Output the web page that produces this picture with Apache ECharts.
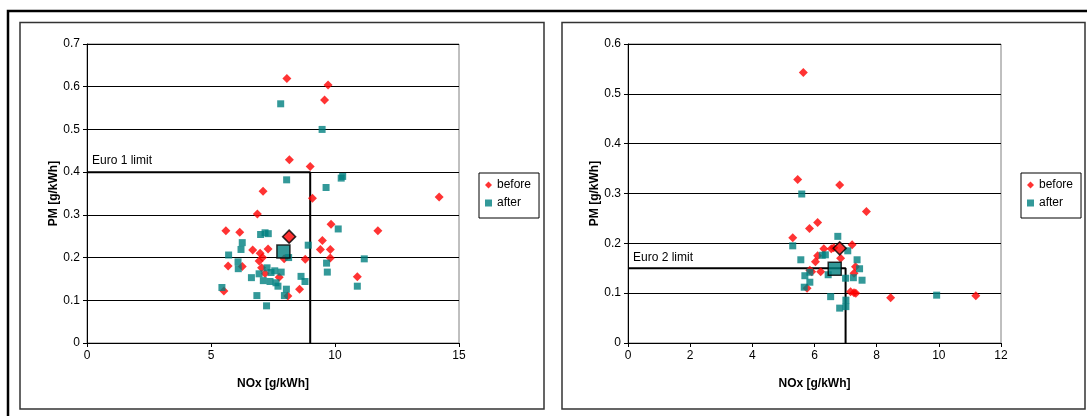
<!DOCTYPE html>
<html>
<head>
<meta charset="utf-8">
<script src="https://cdn.jsdelivr.net/npm/echarts@6/dist/echarts.min.js"></script>
<style>
  html, body { margin: 0; padding: 0; background: #fff; }
  #chart { width: 1087px; height: 416px; }
</style>
</head>
<body>
<div id="chart"></div>
<script>
// ---- Engine 1 (Euro 1 limit): NOx [g/kWh], PM [g/kWh] ----
const leftBefore = [
  [5.52,0.122],[5.60,0.263],[5.69,0.180],[6.16,0.259],[6.26,0.179],[6.68,0.218],
  [6.87,0.302],[6.94,0.192],[6.98,0.210],[7.08,0.200],[7.04,0.176],[7.10,0.355],
  [7.18,0.163],[7.30,0.220],[7.75,0.154],[7.95,0.197],[8.06,0.619],[8.10,0.110],
  [8.16,0.429],[8.57,0.126],[8.80,0.196],[9.00,0.413],[9.09,0.339],[9.41,0.219],
  [9.49,0.240],[9.58,0.569],[9.72,0.604],[9.81,0.219],[9.81,0.199],[9.84,0.278],
  [10.90,0.155],[11.73,0.263],[14.20,0.342]
];
const leftAfter = [
  [5.44,0.130],[5.71,0.206],[6.09,0.190],[6.10,0.174],[6.21,0.219],[6.26,0.235],
  [6.63,0.153],[6.85,0.111],[6.94,0.162],[7.00,0.254],[7.18,0.258],[7.31,0.256],
  [7.11,0.146],[7.24,0.087],[7.26,0.176],[7.38,0.144],[7.42,0.165],[7.57,0.169],
  [7.62,0.141],[7.70,0.133],[7.83,0.166],[7.81,0.560],[7.96,0.111],[8.04,0.126],
  [8.05,0.382],[8.13,0.200],[8.63,0.156],[8.79,0.144],[8.92,0.229],[9.48,0.500],
  [9.64,0.364],[9.66,0.187],[9.69,0.166],[10.13,0.267],[10.25,0.386],[10.31,0.390],
  [10.90,0.133],[11.18,0.197]
];
const leftBeforeMean = [[8.15,0.249]];
const leftAfterMean = [[7.92,0.214]];
const euro1Limit = [[0,0.4],[9,0.4],[9,0]];
const euro1Text = 'Euro 1 limit';

// ---- Engine 2 (Euro 2 limit) ----
const rightBefore = [
  [5.64,0.543],[5.46,0.328],[6.81,0.317],[7.67,0.264],[6.10,0.242],[5.84,0.230],
  [5.30,0.211],[7.21,0.197],[6.30,0.189],[6.54,0.189],[6.62,0.191],[6.10,0.175],
  [6.03,0.163],[6.84,0.170],[7.32,0.153],[5.85,0.146],[5.91,0.143],[6.20,0.143],
  [7.27,0.140],[5.76,0.110],[7.16,0.103],[7.27,0.101],[7.33,0.100],[8.45,0.091],
  [11.19,0.095]
];
const rightAfter = [
  [5.59,0.299],[6.75,0.214],[5.30,0.195],[7.07,0.185],[6.35,0.177],[6.25,0.176],
  [5.56,0.167],[7.37,0.167],[7.45,0.149],[5.85,0.142],[5.69,0.135],[6.44,0.137],
  [7.25,0.131],[7.00,0.130],[7.53,0.126],[5.85,0.122],[5.67,0.112],[6.52,0.093],
  [7.01,0.086],[7.01,0.073],[6.81,0.070],[9.93,0.096]
];
const rightBeforeMean = [[6.81,0.190]];
const rightAfterMean = [[6.65,0.149]];
const euro2Limit = [[0,0.15],[7,0.15],[7,0]];
const euro2Text = 'Euro 2 limit';

// axis ranges and tick steps
const leftX = { min: 0, max: 15, step: 5 };
const leftY = { min: 0, max: 0.7, step: 0.1 };
const rightX = { min: 0, max: 12, step: 2 };
const rightY = { min: 0, max: 0.6, step: 0.1 };
const seriesNames = ['before', 'after'];
const xTitle = 'NOx [g/kWh]';
const yTitle = 'PM [g/kWh]';

const FONT = '"Liberation Sans", Arial, sans-serif';
const RED = '#ff0000';
const TEAL = '#008080';

function xAxisOf(range, gridIndex) {
  return {
    type: 'value', gridIndex, min: range.min, max: range.max, interval: range.step,
    name: xTitle, nameLocation: 'middle', nameGap: 35,
    nameTextStyle: { fontFamily: FONT, fontSize: 12, fontWeight: 'bold', color: '#000' },
    axisLine: { show: true, onZero: false, lineStyle: { color: '#000', width: 1 } },
    axisTick: { show: true, inside: false, length: 4, lineStyle: { color: '#000' } },
    axisLabel: { margin: 7, fontFamily: FONT, fontSize: 12, color: '#000' },
    splitLine: { show: false }
  };
}
function yAxisOf(range, gridIndex) {
  return {
    type: 'value', gridIndex, min: range.min, max: range.max, interval: range.step,
    name: yTitle, nameLocation: 'middle', nameGap: 20,
    nameTextStyle: { fontFamily: FONT, fontSize: 12, fontWeight: 'bold', color: '#000' },
    axisLine: { show: true, onZero: false, lineStyle: { color: '#000', width: 1 } },
    axisTick: { show: true, inside: false, length: 4, lineStyle: { color: '#000' } },
    axisLabel: { margin: 7, fontFamily: FONT, fontSize: 12, color: '#000',
      formatter: v => String(+v.toFixed(1)) },
    splitLine: { show: true, lineStyle: { color: '#000', width: 1 } }
  };
}
function pointSeries(name, data, idx, big) {
  const isBefore = name === 'before';
  return {
    name: big ? name + ' mean' : name,
    type: 'scatter', xAxisIndex: idx, yAxisIndex: idx, data,
    symbol: isBefore ? 'diamond' : 'rect',
    symbolSize: big ? 13 : (isBefore ? 9 : 7),
    itemStyle: big
      ? { color: isBefore ? RED : TEAL, borderColor: '#000', borderWidth: 1.5 }
      : { color: isBefore ? RED : TEAL },
    z: big ? 5 : (isBefore ? 3 : 4),
    silent: true
  };
}
function limitSeries(data, text, idx) {
  return {
    name: text, type: 'line', xAxisIndex: idx, yAxisIndex: idx,
    data: data.map((p, i) => i === 0
      ? { value: p, label: { show: true, formatter: text, position: 'top', align: 'left',
          distance: 5, offset: [5, 0], fontFamily: FONT, fontSize: 12, color: '#000' } }
      : { value: p }),
    symbol: 'circle', symbolSize: 0.01, showSymbol: true, showAllSymbol: true,
    itemStyle: { color: '#000' },
    label: { show: false },
    lineStyle: { color: '#000', width: 2 },
    z: 2, silent: true, animation: false
  };
}
function legendAt(left) {
  return {
    data: seriesNames, orient: 'vertical', left, top: 173,
    borderColor: '#000', borderWidth: 1, padding: [6, 8, 9, 6],
    itemWidth: 7, itemHeight: 7, itemGap: 6,
    textStyle: { fontFamily: FONT, fontSize: 12, color: '#000' },
    selectedMode: false
  };
}

const chart = echarts.init(document.getElementById('chart'), null, { renderer: 'canvas' });
chart.setOption({
  animation: false,
  backgroundColor: '#fff',
  grid: [
    { left: 87, top: 44, width: 372, height: 299, show: true, borderColor: '#808080', borderWidth: 1, backgroundColor: 'transparent' },
    { left: 628, top: 44, width: 373, height: 299, show: true, borderColor: '#808080', borderWidth: 1, backgroundColor: 'transparent' }
  ],
  xAxis: [xAxisOf(leftX, 0), xAxisOf(rightX, 1)],
  yAxis: [yAxisOf(leftY, 0), yAxisOf(rightY, 1)],
  legend: [legendAt(479), legendAt(1021)],
  graphic: [
    { type: 'rect', shape: { x: 8, y: 11, width: 1100, height: 420 },
      style: { fill: 'none', stroke: '#000', lineWidth: 2.5 }, silent: true },
    { type: 'rect', shape: { x: 20, y: 22.5, width: 524, height: 386.5 },
      style: { fill: 'none', stroke: '#333', lineWidth: 1.5 }, silent: true },
    { type: 'rect', shape: { x: 562, y: 22.5, width: 523, height: 386.5 },
      style: { fill: 'none', stroke: '#333', lineWidth: 1.5 }, silent: true }
  ],
  series: [
    limitSeries(euro1Limit, euro1Text, 0),
    pointSeries('before', leftBefore, 0, false),
    pointSeries('after', leftAfter, 0, false),
    pointSeries('before', leftBeforeMean, 0, true),
    pointSeries('after', leftAfterMean, 0, true),
    limitSeries(euro2Limit, euro2Text, 1),
    pointSeries('before', rightBefore, 1, false),
    pointSeries('after', rightAfter, 1, false),
    pointSeries('before', rightBeforeMean, 1, true),
    pointSeries('after', rightAfterMean, 1, true)
  ]
});
</script>
</body>
</html>
